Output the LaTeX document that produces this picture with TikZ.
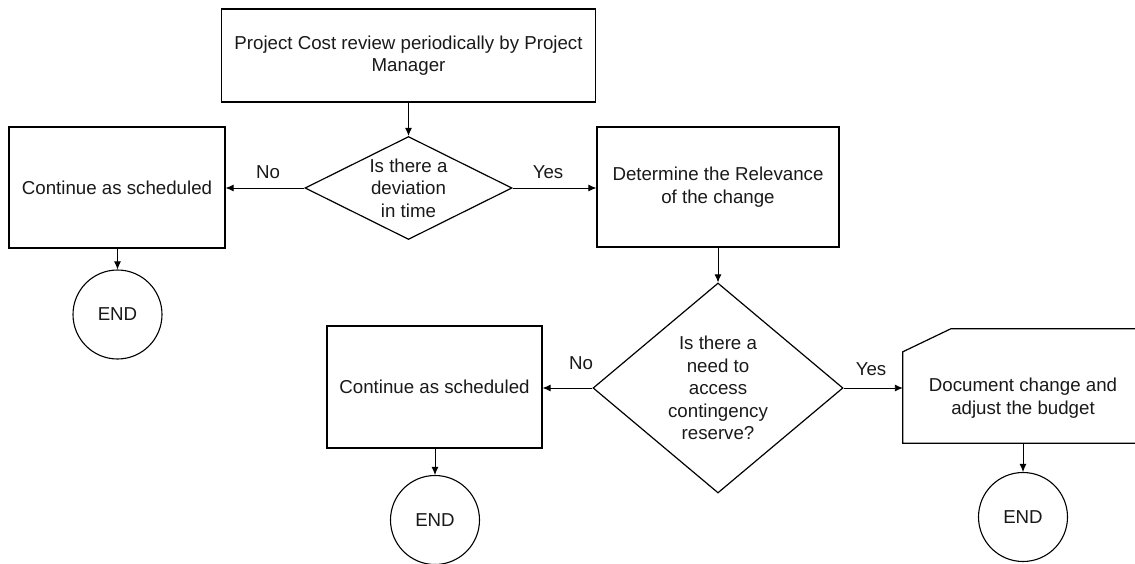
\documentclass[tikz,border=0pt]{standalone}
\usepackage{fontspec}
\setmainfont{Liberation Sans}
\usetikzlibrary{shapes.geometric,arrows.meta,calc}
\begin{document}
\begin{tikzpicture}[x=1pt,y=-1pt,
  every node/.style={font=\fontsize{18.7}{22.5}\selectfont,inner sep=0pt,align=center,text=black!90},
  procbox/.style={draw,line width=1.2pt,rectangle},
  decision/.style={draw,line width=1.2pt,diamond},
  endcircle/.style={draw,line width=1.1pt,circle,minimum size=89pt},
  flow/.style={draw,line width=0.9pt,-{Latex[length=8pt,width=7pt]}},
  lbl/.style={}
]
\useasboundingbox (0,0) rectangle (1135,564);
\clip (0,0) rectangle (1135,564);

% top process
\node[procbox,minimum width=374pt,minimum height=93pt] (top) at (408.5,55.5) {Project Cost review periodically by Project\\Manager};

% first decision
\node[decision,minimum width=207pt,minimum height=103pt] (d1) at (408.5,188) {};
\node at (d1.center) {Is there a\\deviation\\in time};

% left continue
\node[procbox,minimum width=216pt,minimum height=121pt] (c1) at (117,187.5) {Continue as scheduled};
\node[endcircle] (e1) at (117.5,314.5) {END};

% determine
\node[procbox,minimum width=242pt,minimum height=120pt] (det) at (718,187) {Determine the Relevance\\of the change};

% second decision
\node[decision,minimum width=250pt,minimum height=210pt] (d2) at (718,388) {};
\node at (d2.center) {Is there a\\need to\\access\\contingency\\reserve?};

% second continue
\node[procbox,minimum width=215pt,minimum height=122pt] (c2) at (434.5,387) {Continue as scheduled};
\node[endcircle] (e2) at (435,520) {END};

% document shape
\node[minimum width=240pt,minimum height=114pt] (doc) at (1023,386) {};
\draw[line width=1.2pt] ($(doc.north west)+(0,23)$) -- ($(doc.north west)+(48,0)$) -- (doc.north east) -- (doc.south east) -- (doc.south west) -- cycle;
\node at (1023,398) {Document change and\\adjust the budget};
\node[endcircle] (e3) at (1023,517) {END};

% connectors
\draw[flow] (top.south) -- (d1.north);
\draw[flow] (d1.west) -- (d1.west -| c1.east);
\draw[flow] (d1.east) -- (d1.east -| det.west);
\draw[flow] (c1.south) -- (c1.south -| e1.north) -- (e1.north);
\draw[flow] (det.south) -- (d2.north);
\draw[flow] (d2.west) -- (d2.west -| c2.east);
\draw[flow] (d2.east) -- (d2.east -| doc.west);
\draw[flow] (c2.south -| e2.north) -- (e2.north);
\draw[flow] (doc.south -| e3.north) -- (e3.north);

% labels
\node[lbl] (no1) at (268,172) {No};
\node[lbl] (yes1) at (548,172) {Yes};
\node[lbl] (no2) at (581,363) {No};
\node[lbl] (yes2) at (871,369) {Yes};
\end{tikzpicture}
\end{document}
